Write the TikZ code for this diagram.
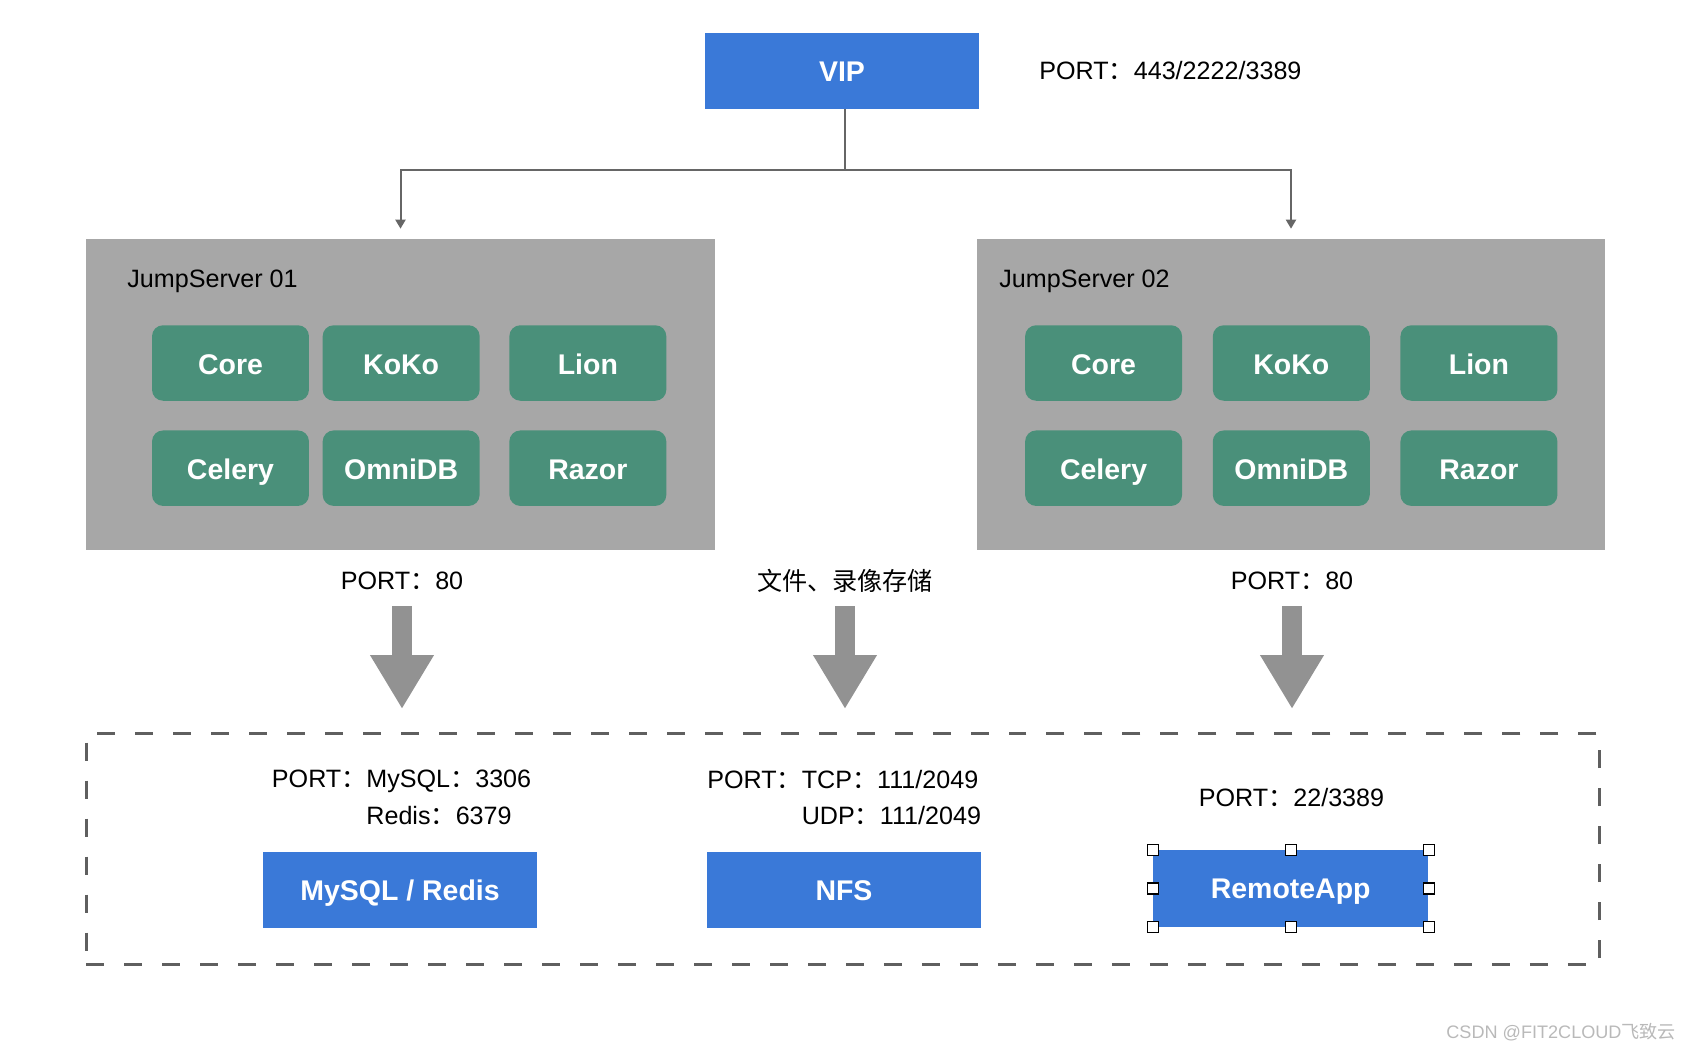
\documentclass[tikz,border=0pt]{standalone}
\usepackage{fontspec}
\setmainfont{Liberation Sans}
\newfontfamily\cjk{Noto Sans CJK SC}
\usepackage{tikz}
\usetikzlibrary{
  arrows.meta,
  positioning
}
\usepackage{xcolor}
\definecolor{jsblue}{HTML}{3A79D8}
\definecolor{jsgreen}{HTML}{4A907A}
\definecolor{jsgray}{HTML}{A7A7A7}
\definecolor{jsline}{HTML}{666666}
\definecolor{jsarrow}{HTML}{929292}
\definecolor{jsdash}{HTML}{5F5F5F}
\newcommand\fwc{{\cjk ：}}
\tikzset{
  % blue endpoint boxes
  bluenode/.style={
    rectangle, fill=jsblue, text=white,
    minimum width=5.48cm, minimum height=1.52cm,
    text height=12.8pt, text depth=1.2pt,
    font=\fontsize{16.2}{19}\selectfont\bfseries, inner sep=0pt
  },
  % JumpServer host area
  hostnode/.style={
    rectangle, fill=jsgray,
    minimum width=12.58cm, minimum height=6.22cm
  },
  svcnode/.style={
    rectangle, rounded corners=0.22cm,
    fill=jsgreen, text=white,
    minimum width=3.14cm, minimum height=1.51cm,
    text height=14.4pt, text depth=1.1pt, inner sep=0pt,
    font=\fontsize{16.2}{19}\selectfont\bfseries
  },
  hosttitle/.style={
    font=\fontsize{14.3}{17}\selectfont, inner sep=0pt, anchor=west
  },
  porttext/.style={
    font=\fontsize{14.3}{21}\selectfont, inner sep=0pt, align=left
  },
  zonenode/.style={
    rectangle, draw=jsdash, line width=0.06cm,
    dash pattern=on 0.36cm off 0.4cm,
    minimum width=30.27cm, minimum height=4.63cm
  },
  conn/.style={
    -{Triangle[length=0.18cm,width=0.2cm]}, draw=jsline, line width=0.04cm
  },
  bigarrow/.style={
    -{Triangle[length=1.08cm,width=1.2cm]}, draw=jsarrow, line width=0.39cm
  },
  handlenode/.style={
    rectangle, draw=black, fill=white,
    minimum size=0.22cm, inner sep=0pt, line width=0.6pt
  },
  wmtext/.style={
    text=gray!55, font=\fontsize{10.3}{12}\selectfont,
    inner sep=0pt, anchor=west
  }
}
\begin{document}
\begin{tikzpicture}[x=0.02cm, y=-0.02cm]
  \useasboundingbox (0,0) rectangle (1690,1052);

  % --- VIP ---
  \node[bluenode] (vip) at (842,71) {VIP};
  \node[hosttitle] (vipport) at (1039,71) {PORT\fwc 443/2222/3389};

  % --- JumpServer hosts ---
  \node[hostnode] (js1) at (400.5,394.5) {};
  \node[hostnode] (js2) at (1291,394.5) {};
  \node[hosttitle] (js1title) at (127,281) {JumpServer 01};
  \node[hosttitle] (js2title) at (999,281) {JumpServer 02};

  % components of host 01
  \node[svcnode] (core1) at (230.5,363) {Core};
  \node[svcnode, right=0.26cm of core1] (koko1) {KoKo};
  \node[svcnode, right=0.58cm of koko1] (lion1) {Lion};
  \node[svcnode, below=0.58cm of core1] (celery1) {Celery};
  \node[svcnode, below=0.58cm of koko1] (omnidb1) {OmniDB};
  \node[svcnode, below=0.58cm of lion1] (razor1) {Razor};

  % components of host 02
  \node[svcnode] (core2) at (1103.6,363) {Core};
  \node[svcnode, right=0.6cm of core2] (koko2) {KoKo};
  \node[svcnode, right=0.6cm of koko2] (lion2) {Lion};
  \node[svcnode, below=0.58cm of core2] (celery2) {Celery};
  \node[svcnode, below=0.58cm of koko2] (omnidb2) {OmniDB};
  \node[svcnode, below=0.58cm of lion2] (razor2) {Razor};

  % VIP to hosts
  \draw[conn] ([xshift=0.06cm]vip.south) -- ++(0,61) -| ([yshift=0.2cm]js1.north);
  \draw[conn] ([xshift=0.06cm]vip.south) -- ++(0,61) -| ([yshift=0.2cm]js2.north);

  % --- labels and big arrows ---
  \node[porttext] (web1) at (402,581) {PORT\fwc 80};
  \node[porttext] (store) at (845,581) {{\cjk 文件、录像存储}};
  \node[porttext] (web2) at (1292,581) {PORT\fwc 80};

  \draw[bigarrow] (web1 |- 0,606) -- (web1 |- 0,709);
  \draw[bigarrow] (store |- 0,606) -- (store |- 0,709);
  \draw[bigarrow] (web2 |- 0,606) -- (web2 |- 0,709);

  % --- backend zone ---
  \node[zonenode] (zone) at (842.75,848.8) {};

  \node[porttext, anchor=west] (dbport) at (271.6,797.5)
    {PORT\fwc MySQL\fwc 3306\\\phantom{PORT\fwc}Redis\fwc 6379};
  \node[porttext, anchor=west] (nfsport) at (707,797.5)
    {PORT\fwc TCP\fwc 111/2049\\\phantom{PORT\fwc}UDP\fwc 111/2049};
  \node[porttext] (rappport) at (1291.5,798) {PORT\fwc 22/3389};

  \node[bluenode] (mysql) at (400,890) {MySQL / Redis};
  \node[bluenode] (nfs) at (844,890) {NFS};
  \node[bluenode, minimum height=1.54cm, minimum width=5.5cm] (rapp) at (1290.7,888.5) {RemoteApp};

  % selection handles
  \foreach \a [count=\i] in {north west,north,north east,east,south east,south,south west,west}
    \node[handlenode] (hd\i) at (rapp.\a) {};

  \node[wmtext] (wm) at (1446,1032) {CSDN @FIT2CLOUD{\cjk 飞致云}};

\end{tikzpicture}
\end{document}
